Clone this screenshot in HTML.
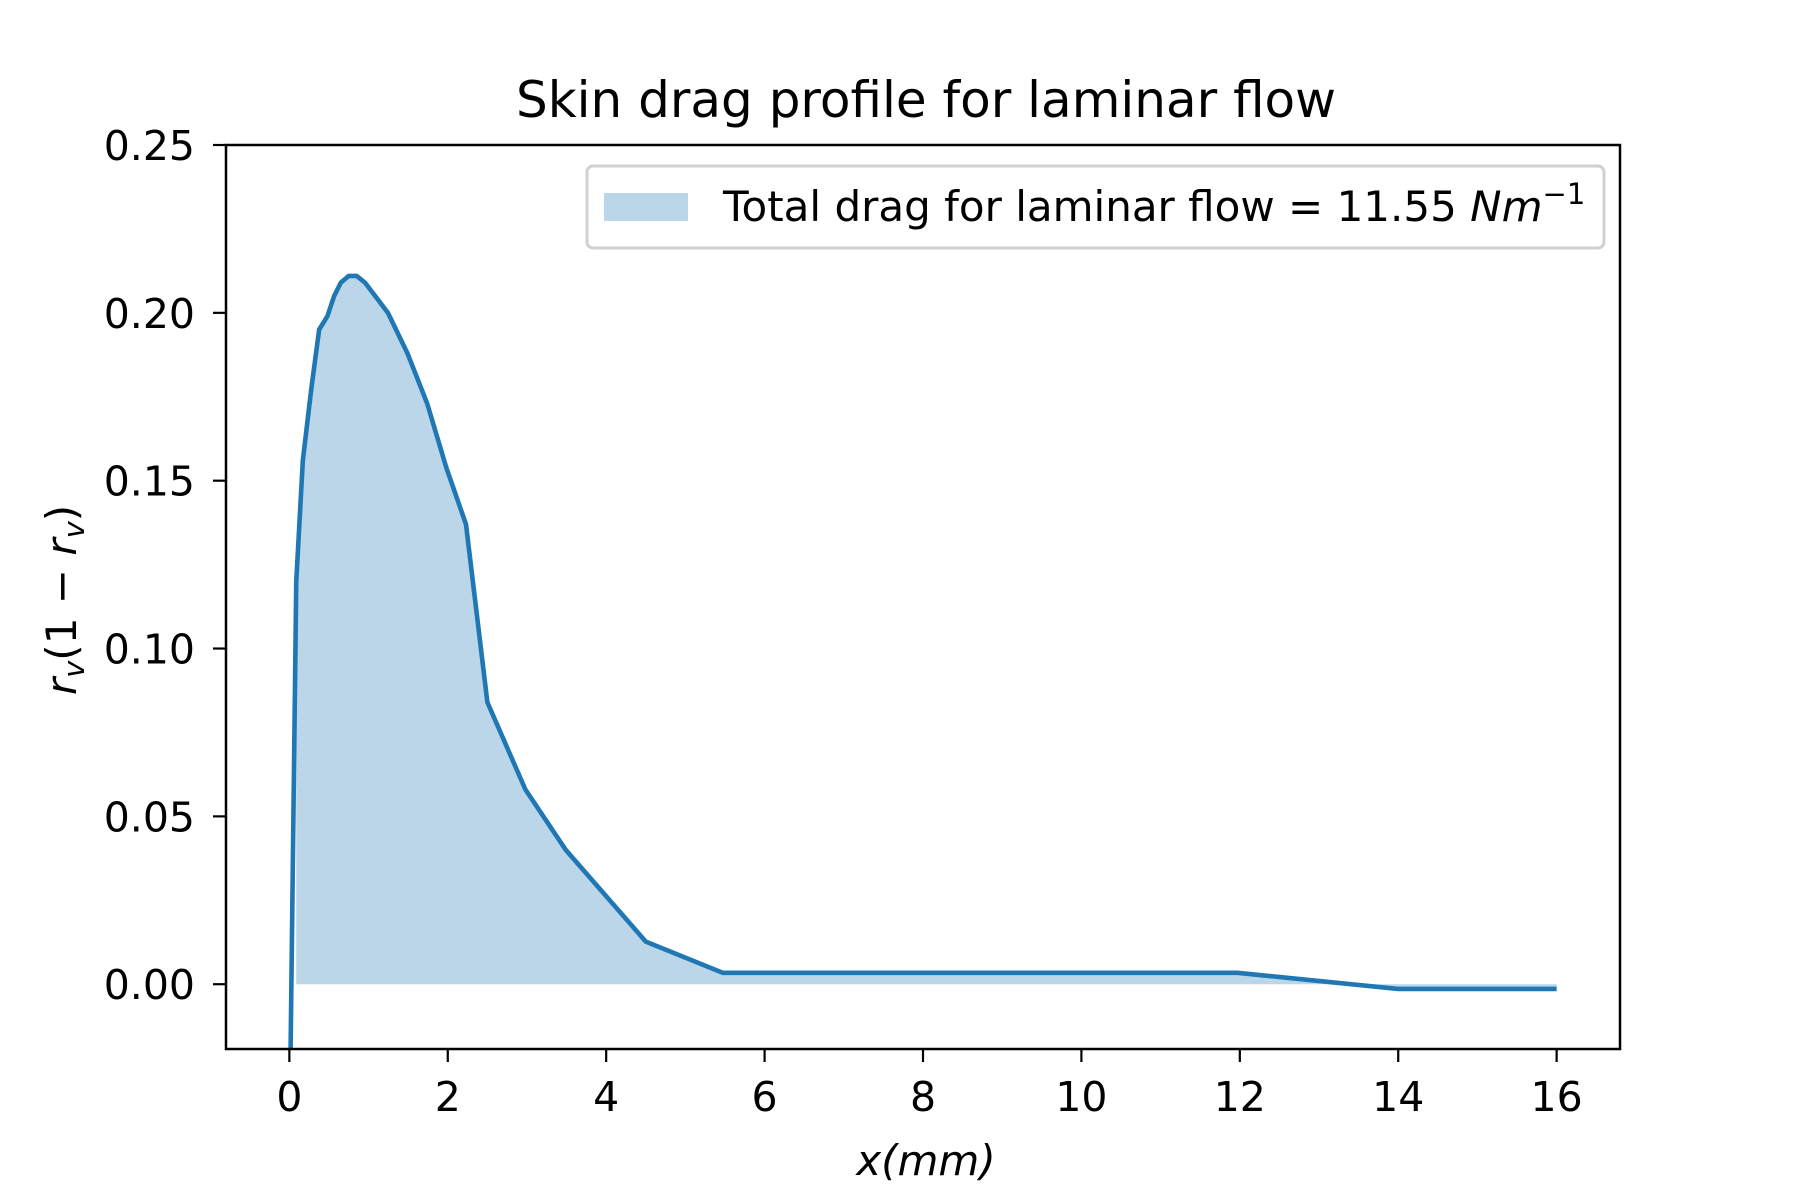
<!DOCTYPE html>
<html><head><meta charset="utf-8"><style>
html,body{margin:0;padding:0;background:#fff;}
svg{display:block;font-family:"DejaVu Sans","Liberation Sans",sans-serif;}
</style></head><body>
<svg id="chart" width="1800" height="1200" viewBox="0 0 1800 1200">
<rect width="1800" height="1200" fill="#fff"/>
<text x="926" y="117" font-size="50" text-anchor="middle">Skin drag profile for laminar flow</text>
<defs><clipPath id="clip"><rect x="226" y="145" width="1394" height="904"/></clipPath></defs>
<g id="plot" clip-path="url(#clip)"></g>
<g id="axes"></g>
<text x="926" y="1175" font-size="42" text-anchor="middle" font-style="italic">x(mm)</text>
<text transform="translate(76,600) rotate(-90)" font-size="42" text-anchor="middle"><tspan font-style="italic">r</tspan><tspan font-style="italic" font-size="29" dy="8">v</tspan><tspan dy="-8">(1 − </tspan><tspan font-style="italic">r</tspan><tspan font-style="italic" font-size="29" dy="8">v</tspan><tspan dy="-8">)</tspan></text>
<g>
<rect x="587" y="166" width="1017" height="82" rx="6" fill="#fff" stroke="#d0d0d0" stroke-width="3"/>
<rect x="604" y="193" width="84" height="28" fill="#bad6e8"/>
<text x="723" y="221" font-size="42">Total drag for laminar flow = 11.55 <tspan font-style="italic">Nm</tspan><tspan font-size="29" dy="-17">−1</tspan></text>
</g>
</svg>
<script>
const xs = [0, 0.087, 0.17, 0.275, 0.376, 0.48, 0.565, 0.65, 0.75, 0.85, 0.955, 1.245, 1.49, 1.74, 1.98, 2.23, 2.5, 2.98, 3.49, 4.5, 5.47, 11.97, 14, 16];
const ys = [-0.05, 0.120, 0.156, 0.177, 0.195, 0.199, 0.205, 0.209, 0.211, 0.211, 0.209, 0.200, 0.188, 0.173, 0.154, 0.137, 0.084, 0.058, 0.040, 0.0127, 0.0034, 0.0034, -0.0014, -0.0014];
const xTicks = [0, 2, 4, 6, 8, 10, 12, 14, 16];
const yTicks = [0, 0.05, 0.10, 0.15, 0.20, 0.25];
const yTickLabels = ["0.00", "0.05", "0.10", "0.15", "0.20", "0.25"];

const L=226,R=1620,T=145,B=1049;
const xMin=-0.8,xMax=16.8,yMin=-0.0193,yMax=0.25;
const sx=v=>L+(v-xMin)/(xMax-xMin)*(R-L);
const sy=v=>B-(v-yMin)/(yMax-yMin)*(B-T);
const NS="http://www.w3.org/2000/svg";
const plot=document.getElementById('plot'), axes=document.getElementById('axes');
function mk(tag,attrs,parent){const e=document.createElementNS(NS,tag);for(const k in attrs)e.setAttribute(k,attrs[k]);parent.appendChild(e);return e;}

let d='M'+sx(xs[1])+','+sy(0);
for(let i=1;i<xs.length;i++) d+=' L'+sx(xs[i])+','+sy(ys[i]);
d+=' L'+sx(xs[xs.length-1])+','+sy(0)+' Z';
const area=mk('path',{d:d,fill:'#bad6e8'},plot);



let ld='';
for(let i=0;i<xs.length;i++) ld+=(i?' L':'M')+sx(xs[i])+','+sy(ys[i]);
const line=mk('path',{d:ld,fill:'none',stroke:'#1f77b4','stroke-width':4.6,'stroke-linejoin':'round'},plot);



const frame=mk('rect',{x:L,y:T,width:R-L,height:B-T,fill:'none',stroke:'#000','stroke-width':2.5},axes);



xTicks.forEach(v=>{
  const x=sx(v);
  const t=mk('line',{x1:x,x2:x,y1:B,y2:B+13,stroke:'#000','stroke-width':2.2},axes);
  
  
  const lb=mk('text',{x:x,y:B+62,'font-size':41,'text-anchor':'middle'},axes);
  lb.textContent=v;
  
  
});
yTicks.forEach((v,i)=>{
  const y=sy(v);
  const t=mk('line',{x1:L-13,x2:L,y1:y,y2:y,stroke:'#000','stroke-width':2.2},axes);
  
  
  const lb=mk('text',{x:L-31,y:y+15,'font-size':41,'text-anchor':'end'},axes);
  lb.textContent=yTickLabels[i];
  
  
});
</script>
</body></html>
